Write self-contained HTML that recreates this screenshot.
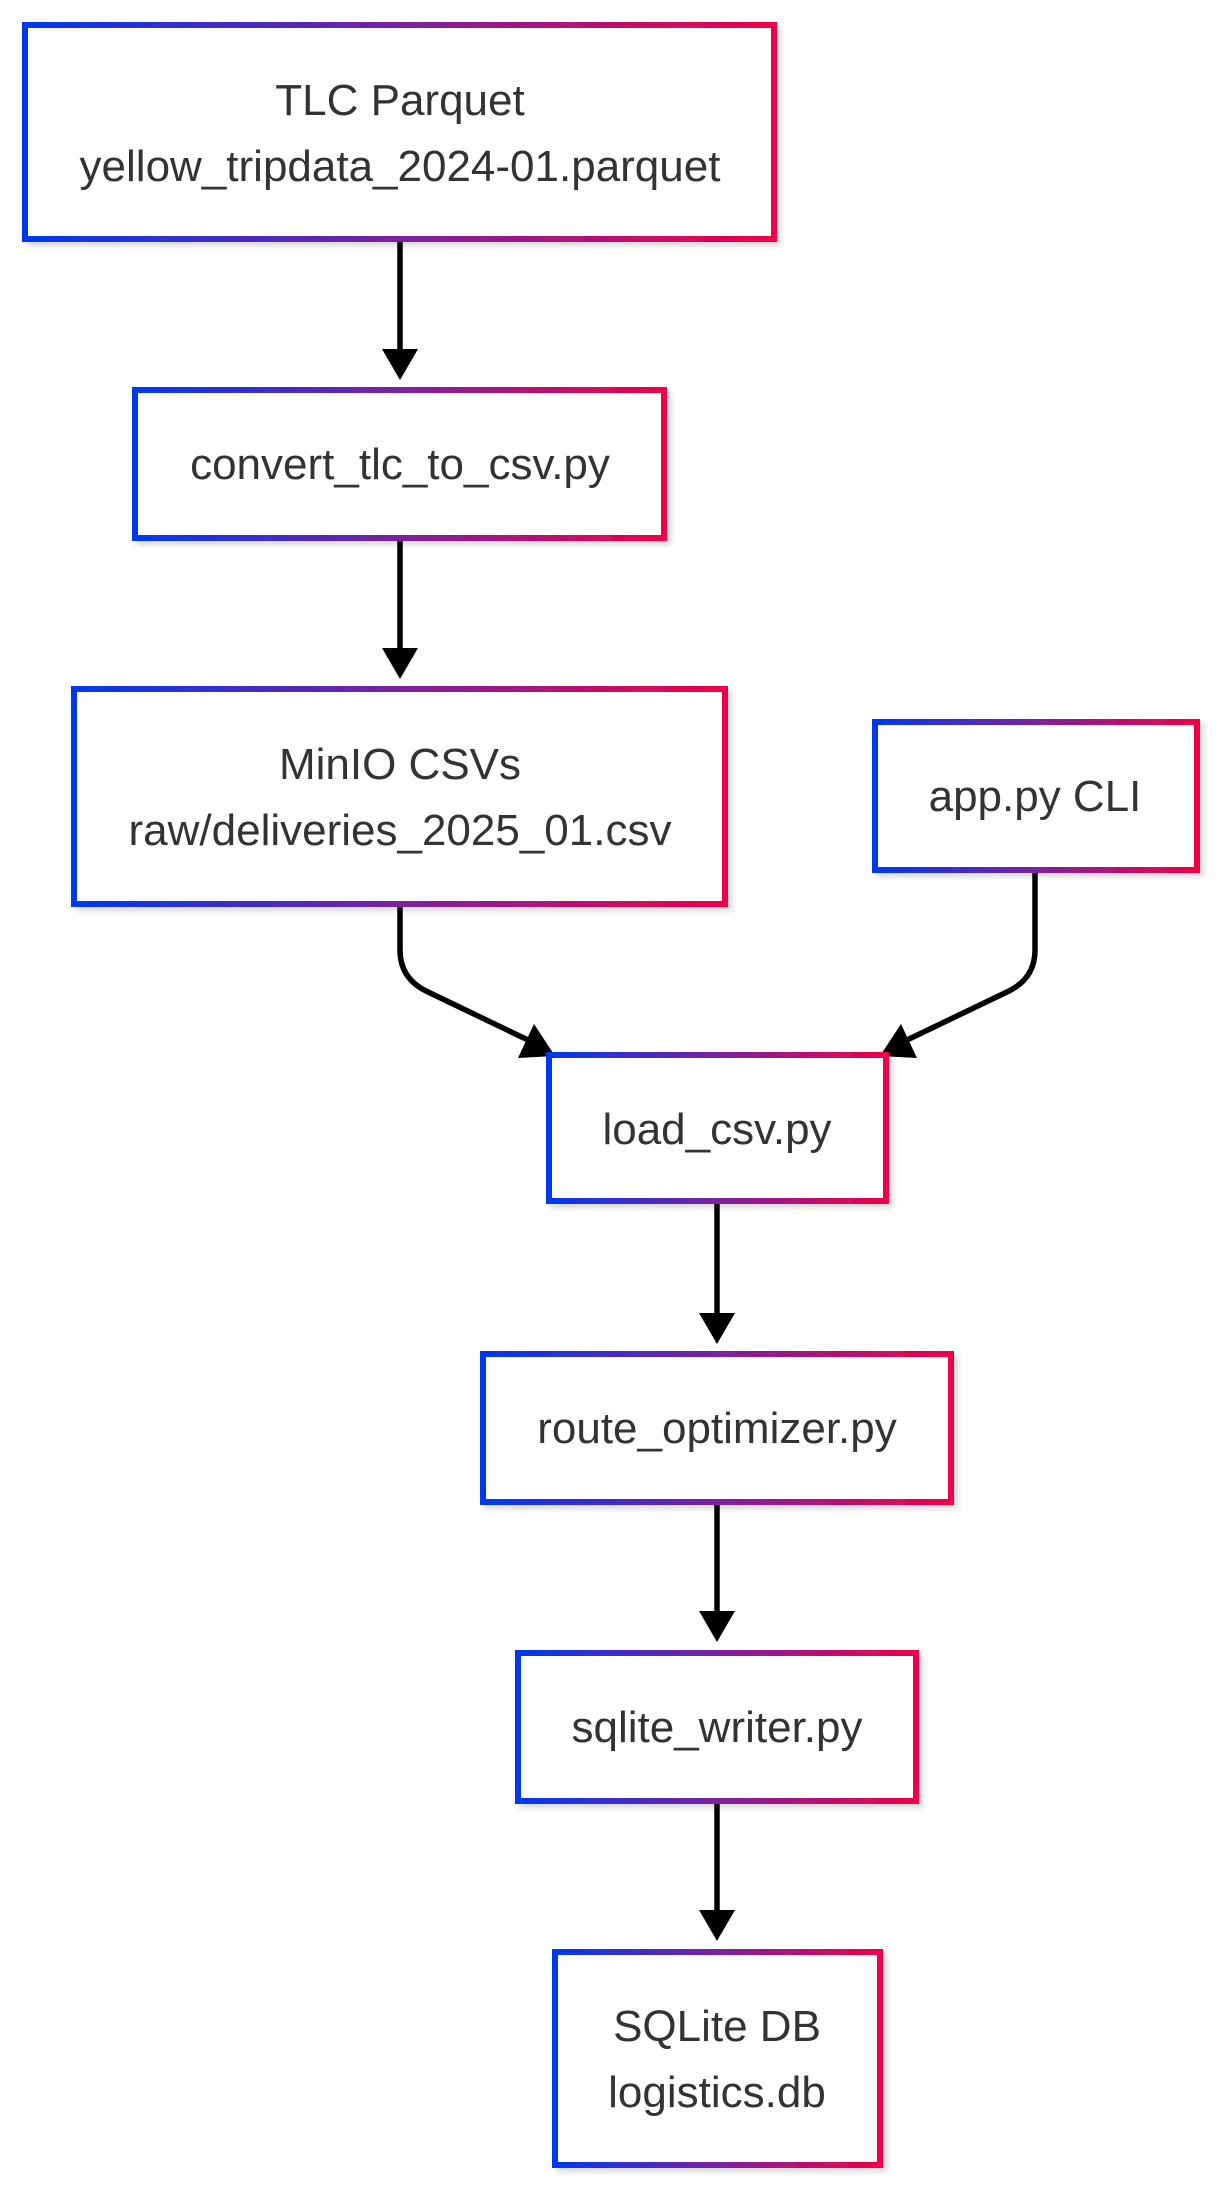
<!DOCTYPE html>
<html><head><meta charset="utf-8"><style>
html,body{margin:0;padding:0;background:#fff;}
svg{display:block;}
text{font-family:"Liberation Sans",Arial,sans-serif;font-size:44px;fill:#333;text-anchor:middle;}
</style></head><body>
<svg width="1221" height="2190" viewBox="0 0 1221 2190" xmlns="http://www.w3.org/2000/svg">
<defs>
<linearGradient id="g" x1="0" y1="0" x2="1" y2="0">
<stop offset="0" stop-color="#0038f0"/><stop offset="0.5" stop-color="#7a22a0"/><stop offset="1" stop-color="#f00048"/>
</linearGradient>
<filter id="sh" x="-5%" y="-5%" width="115%" height="120%">
<feDropShadow dx="4" dy="4" stdDeviation="3" flood-color="#000" flood-opacity="0.15"/>
</filter>
</defs>
<g fill="none" stroke="#000" stroke-width="5.5">
<line x1="400" y1="239" x2="400" y2="352"/>
<line x1="400" y1="538" x2="400" y2="650"/>
<path d="M400 904 V950 Q400 978 426 991 L528 1040"/>
<path d="M1035 870 V950 Q1035 978 1009 991 L907 1040"/>
<line x1="717" y1="1201" x2="717" y2="1314"/>
<line x1="717" y1="1502" x2="717" y2="1612"/>
<line x1="717" y1="1801" x2="717" y2="1912"/>
</g>
<g fill="#000">
<polygon points="382,349 418,349 400,380"/>
<polygon points="382,648 418,648 400,679"/>
<polygon points="699,1313 735,1313 717,1344"/>
<polygon points="699,1611 735,1611 717,1642"/>
<polygon points="699,1910 735,1910 717,1941"/>
<polygon points="555,1056 518,1058 534,1024"/>
<polygon points="880,1056 917,1058 901,1024"/>
</g>
<g fill="#fff" stroke="url(#g)" stroke-width="6" filter="url(#sh)">
<rect x="25" y="25" width="749" height="214"/>
<rect x="135" y="390" width="529" height="148"/>
<rect x="74" y="689" width="651" height="215"/>
<rect x="875" y="722" width="322" height="148"/>
<rect x="549" y="1055" width="337" height="146"/>
<rect x="483" y="1354" width="468" height="148"/>
<rect x="518" y="1653" width="398" height="148"/>
<rect x="555" y="1952" width="325" height="213"/>
</g>
<text x="400" y="115">TLC Parquet</text>
<text x="400" y="181">yellow_tripdata_2024-01.parquet</text>
<text x="400" y="479">convert_tlc_to_csv.py</text>
<text x="400" y="779">MinIO CSVs</text>
<text x="400" y="845">raw/deliveries_2025_01.csv</text>
<text x="1035" y="811">app.py CLI</text>
<text x="717" y="1144">load_csv.py</text>
<text x="717" y="1443">route_optimizer.py</text>
<text x="717" y="1742">sqlite_writer.py</text>
<text x="717" y="2041">SQLite DB</text>
<text x="717" y="2107">logistics.db</text>
</svg>
</body></html>
